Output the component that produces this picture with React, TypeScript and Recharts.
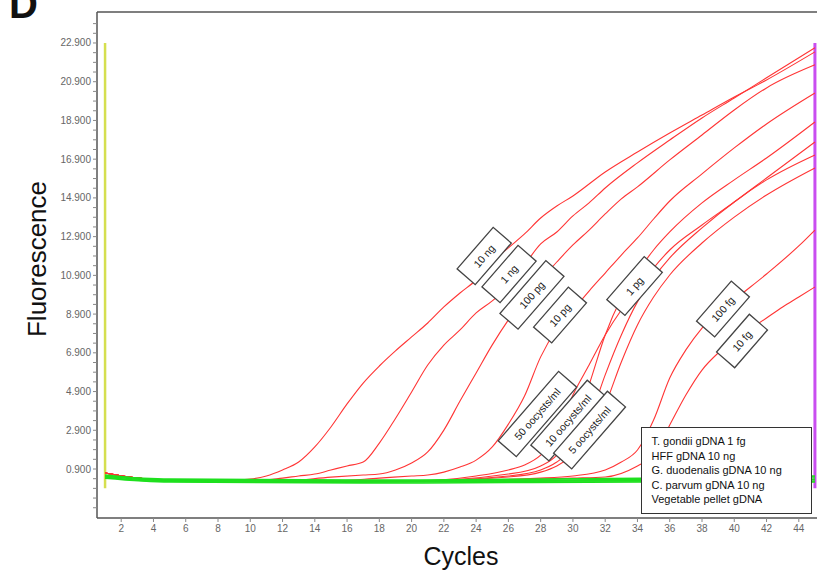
import {
  ComposedChart,
  Line,
  XAxis,
  YAxis,
  ReferenceLine,
  ReferenceDot,
  Legend,
} from "recharts";

const FONT = "'Liberation Sans', Arial, Helvetica, sans-serif";

// axis ticks
const cycleTicks = [2, 4, 6, 8, 10, 12, 14, 16, 18, 20, 22, 24, 26, 28, 30, 32, 34, 36, 38, 40, 42, 44];
const fluorescenceLabels = [900, 2900, 4900, 6900, 8900, 10900, 12900, 14900, 16900, 18900, 20900, 22900];
const fluorescenceTicks = [-1100, -600, -100, 400]
  .concat(fluorescenceLabels.flatMap((v) => [v, v + 500, v + 1000, v + 1500]))
  .filter((v) => v < 24400);

// amplification curves, [cycle, fluorescence]
const ng10 = [[1, 690], [3, 430], [5, 330], [8, 280], [10, 380], [11, 540], [12, 850], [13, 1260], [14, 2040], [15, 3070], [16, 4260], [17, 5340], [18, 6220], [19, 7000], [20, 7720], [21, 8440], [22, 9270], [23, 9990], [24, 10660], [25, 11590], [26, 12320], [27, 13040], [28, 13860], [29, 14480], [30, 15000], [32, 16240], [34, 17270], [36, 18250], [38, 19180], [40, 20110], [42, 20990], [45, 22440]];
const ng1 = [[1, 690], [3, 430], [5, 330], [10, 280], [12, 430], [13, 540], [14, 640], [15, 850], [16, 1060], [17, 1260], [18, 2240], [19, 3510], [20, 4880], [21, 6270], [22, 7300], [23, 8080], [24, 8960], [25, 9580], [26, 10350], [27, 11440], [28, 12520], [29, 13140], [30, 13970], [31, 14640], [32, 15410], [34, 16710], [36, 17890], [38, 19030], [40, 20060], [42, 21100], [45, 22650]];
const pg100 = [[1, 690], [3, 430], [5, 330], [12, 280], [15, 480], [17, 590], [18, 640], [19, 850], [20, 1210], [21, 1780], [22, 2910], [23, 4410], [24, 5860], [25, 7310], [26, 8600], [27, 9730], [28, 10660], [29, 11590], [30, 12470], [31, 13240], [32, 14070], [33, 14850], [34, 15470], [36, 16860], [38, 18150], [40, 19440], [42, 20580], [45, 21770]];
const pg10 = [[1, 690], [3, 430], [5, 330], [15, 280], [18, 430], [20, 540], [21, 590], [22, 740], [23, 1000], [24, 1360], [25, 2040], [26, 3220], [27, 4670], [28, 6690], [29, 8130], [30, 9110], [31, 10090], [32, 11020], [33, 11950], [34, 12830], [35, 13810], [36, 14740], [38, 16140], [40, 17480], [42, 18720], [45, 20320]];
const pg1 = [[1, 690], [3, 430], [5, 330], [20, 280], [24, 540], [26, 850], [27, 1110], [28, 1620], [29, 2660], [30, 4720], [31, 6270], [32, 7820], [33, 9110], [34, 10150], [35, 11280], [36, 12210], [38, 13500], [40, 14690], [42, 15930], [45, 17790]];
const oo50 = [[1, 690], [3, 430], [5, 330], [20, 280], [26, 640], [28, 1060], [29, 1620], [30, 2910], [31, 5240], [32, 7820], [33, 9730], [34, 11070], [35, 12210], [36, 13140], [38, 14640], [40, 15830], [42, 16960], [45, 18820]];
const oo10 = [[1, 690], [3, 430], [5, 330], [20, 280], [26, 540], [28, 850], [29, 1260], [30, 1990], [31, 3430], [32, 5760], [33, 7820], [34, 9530], [35, 10770], [36, 11800], [38, 13350], [40, 14690], [42, 15830], [45, 17120]];
const oo5 = [[1, 690], [3, 430], [5, 330], [20, 280], [26, 490], [28, 740], [29, 1060], [30, 1620], [31, 2500], [32, 4210], [33, 6430], [34, 8340], [35, 9780], [36, 10920], [38, 12570], [40, 13910], [42, 15050], [45, 16450]];
const fg100 = [[1, 690], [3, 430], [5, 330], [20, 280], [28, 430], [30, 540], [32, 850], [33, 1260], [34, 1880], [35, 3430], [36, 5600], [37, 7050], [38, 8180], [40, 9630], [42, 10970], [44, 12420], [45, 13240]];
const fg10 = [[1, 690], [3, 430], [5, 330], [20, 280], [30, 430], [32, 490], [34, 1060], [35, 1620], [36, 3170], [37, 4720], [38, 6010], [39, 6890], [40, 7560], [41, 8130], [42, 8700], [43, 9270], [44, 9780], [45, 10300]];

// negative controls (flat)
const tgondii1fg = [[1, 540], [4, 330], [10, 280], [20, 280], [30, 330], [40, 430], [45, 490]];
const hff10ng = [[1, 490], [4, 280], [10, 230], [20, 230], [30, 280], [40, 330], [45, 380]];
const gduod10ng = [[1, 590], [5, 330], [15, 280], [30, 280], [45, 280]];
const cparv10ng = [[1, 430], [5, 230], [20, 180], [35, 230], [45, 230]];
const vegPellet = [[1, 540], [5, 380], [20, 330], [35, 430], [45, 540]];

const positives = [
  { name: "10 ng", pts: ng10 },
  { name: "1 ng", pts: ng1 },
  { name: "100 pg", pts: pg100 },
  { name: "10 pg", pts: pg10 },
  { name: "1 pg", pts: pg1 },
  { name: "50 oocysts/ml", pts: oo50 },
  { name: "10 oocysts/ml", pts: oo10 },
  { name: "5 oocysts/ml", pts: oo5 },
  { name: "100 fg", pts: fg100 },
  { name: "10 fg", pts: fg10 },
];

const negatives = [
  { name: "T. gondii gDNA 1 fg", pts: tgondii1fg },
  { name: "HFF gDNA 10 ng", pts: hff10ng },
  { name: "G. duodenalis gDNA 10 ng", pts: gduod10ng },
  { name: "C. parvum gDNA 10 ng", pts: cparv10ng },
  { name: "Vegetable pellet gDNA", pts: vegPellet },
];

// curve tags: [text, cycle, fluorescence, box length]
const curveTags: [string, number, number, number][] = [
  ["10 ng", 24.5, 11900, 55],
  ["1 ng", 26.04, 10970, 55],
  ["100 pg", 27.46, 9890, 70],
  ["10 pg", 29.2, 8850, 53],
  ["1 pg", 33.82, 10350, 57],
  ["50 oocysts/ml", 27.8, 3740, 92],
  ["10 oocysts/ml", 29.7, 3400, 86],
  ["5 oocysts/ml", 31.03, 2910, 82],
  ["100 fg", 39.3, 9160, 53],
  ["10 fg", 40.48, 7510, 50],
];

const toPts = (a: number[][]) => a.map(([c, v]) => ({ cycle: c, value: v }));

function YTick(props: any) {
  const { x, y, payload } = props;
  const v = Number(payload && payload.value);
  const label = fluorescenceLabels.indexOf(v) >= 0 ? (v / 1000).toFixed(3) : "";
  return (
    <g>
      <line x1={x + 2} x2={x + 6} y1={y} y2={y} stroke="#888" strokeWidth={1} />
      {label && (
        <text x={x} y={y} dy="0.35em" textAnchor="end" fontSize={10} fontFamily={FONT} fill="#666">
          {label}
        </text>
      )}
    </g>
  );
}

function Tag({ cx, cy, text, len }: { cx?: number; cy?: number; text: string; len: number }) {
  if (cx == null || cy == null) return null;
  return (
    <g transform={`translate(${cx},${cy}) rotate(-49)`}>
      <rect x={-len / 2} y={-12} width={len} height={24} fill="#fff" stroke="#444" strokeWidth={1.3} />
      <text x={0} y={0} dy="0.36em" textAnchor="middle" fontSize={10.5} fontFamily={FONT} fill="#222">
        {text}
      </text>
    </g>
  );
}

function ControlsBox({ payload }: { payload?: any[] }) {
  const names = negatives.map((n) => n.name);
  const items = (payload || [])
    .filter((p) => names.includes(p.value))
    .sort((a, b) => names.indexOf(a.value) - names.indexOf(b.value));
  return (
    <div
      style={{
        boxSizing: "border-box",
        width: 171,
        border: "1.5px solid #333",
        background: "#fff",
        padding: "6px 8px 6px 9.5px",
        fontFamily: FONT,
        fontSize: 11,
        lineHeight: "14.5px",
        color: "#111",
        textAlign: "left",
        whiteSpace: "nowrap",
      }}
    >
      {items.map((p) => (
        <div key={p.value}>{p.value}</div>
      ))}
    </div>
  );
}

export default function App() {
  return (
    <div
      style={{
        position: "fixed",
        left: 0,
        top: 0,
        width: 817,
        height: 574,
        overflow: "hidden",
        background: "#fff",
      }}
    >
      <ComposedChart width={830} height={574} margin={{ top: 12, right: 7, bottom: 0, left: 0 }}>
        <XAxis
          dataKey="cycle"
          type="number"
          domain={[0.5, 45.5]}
          ticks={cycleTicks}
          allowDataOverflow
          height={56}
          tickSize={4}
          tickMargin={3}
          tick={{ fontSize: 10, fill: "#666", fontFamily: FONT }}
          tickLine={{ stroke: "#888" }}
          axisLine={{ stroke: "#555", strokeWidth: 1.5 }}
        />
        <YAxis
          type="number"
          domain={[-1630, 24500]}
          ticks={fluorescenceTicks}
          interval={0}
          allowDataOverflow
          width={97}
          tickSize={0}
          tickMargin={6}
          tick={<YTick />}
          tickLine={false}
          axisLine={{ stroke: "#555", strokeWidth: 1.5 }}
        />
        <ReferenceLine y={24500} stroke="#555" strokeWidth={1.5} />
        <ReferenceLine
          segment={[{ x: 1, y: 22900 }, { x: 1, y: -100 }]}
          stroke="#d5df4f"
          strokeWidth={2.5}
        />
        <ReferenceLine
          segment={[{ x: 45, y: 22900 }, { x: 45, y: -100 }]}
          stroke="#c94ef0"
          strokeWidth={3}
        />
        {positives.map((s) => (
          <Line
            key={s.name}
            name={s.name}
            data={toPts(s.pts)}
            dataKey="value"
            type="monotone"
            stroke="#ff3535"
            strokeWidth={1.1}
            dot={false}
            legendType="none"
            isAnimationActive={false}
          />
        ))}
        {negatives.map((s) => (
          <Line
            key={s.name}
            name={s.name}
            data={toPts(s.pts)}
            dataKey="value"
            type="monotone"
            stroke="#1ee01e"
            strokeWidth={1.6}
            dot={false}
            isAnimationActive={false}
          />
        ))}
        {curveTags.map(([text, c, v, len]) => (
          <ReferenceDot
            key={text}
            x={c}
            y={v}
            r={0}
            ifOverflow="visible"
            shape={(p: any) => <Tag cx={p.cx} cy={p.cy} text={text} len={len} />}
          />
        ))}
        <Legend
          layout="vertical"
          align="center"
          verticalAlign="middle"
          itemSorter={null as any}
          wrapperStyle={{ left: 641, top: 427, width: 171 }}
          content={(props: any) => <ControlsBox payload={props.payload} />}
        />
      </ComposedChart>
      <svg
        width={817}
        height={574}
        style={{ position: "absolute", left: 0, top: 0, pointerEvents: "none" }}
      >
        <text x={9} y={18} fontSize={40} fontWeight="bold" fontFamily={FONT} fill="#111">
          D
        </text>
        <text
          transform="translate(46,259) rotate(-90)"
          textAnchor="middle"
          fontSize={26}
          fontFamily={FONT}
          fill="#111"
        >
          Fluorescence
        </text>
        <text x={461} y={565} textAnchor="middle" fontSize={25} fontFamily={FONT} fill="#111">
          Cycles
        </text>
      </svg>
    </div>
  );
}
